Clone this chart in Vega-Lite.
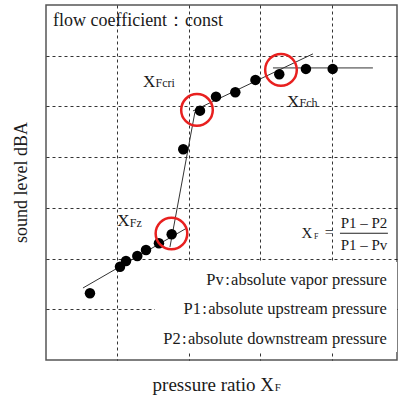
{
  "$schema": "https://vega.github.io/schema/vega-lite/v6.json",
  "autosize": "none",
  "width": 351,
  "height": 355,
  "padding": {"left": 46, "top": 5, "right": 1, "bottom": 37},
  "background": "white",
  "config": {
    "view": {"stroke": "#555", "strokeWidth": 1.5},
    "text": {"font": "Liberation Serif", "color": "#1a1a1a"}
  },
  "datasets": {
    "points": [
      {"x": 0.615, "y": 1.316}, {"x": 1.035, "y": 1.84}, {"x": 1.119, "y": 1.953},
      {"x": 1.277, "y": 2.051}, {"x": 1.399, "y": 2.17}, {"x": 1.58, "y": 2.302},
      {"x": 1.758, "y": 2.479}, {"x": 1.92, "y": 4.156}, {"x": 2.154, "y": 4.917},
      {"x": 2.378, "y": 5.193}, {"x": 2.648, "y": 5.28}, {"x": 2.93, "y": 5.523},
      {"x": 3.263, "y": 5.635}, {"x": 3.636, "y": 5.74}, {"x": 4.01, "y": 5.74}
    ],
    "segments": [
      {"seg": "A", "x": 0.517, "y": 1.42}, {"seg": "A", "x": 1.972, "y": 2.604},
      {"seg": "B", "x": 1.734, "y": 2.229}, {"seg": "B", "x": 2.084, "y": 4.892},
      {"seg": "C", "x": 2.056, "y": 4.911}, {"seg": "C", "x": 3.734, "y": 6.036},
      {"seg": "D", "x": 3.175, "y": 5.759}, {"seg": "D", "x": 4.573, "y": 5.759}
    ],
    "circles": [
      {"name": "XFz", "x": 1.755, "y": 2.495},
      {"name": "XFcri", "x": 2.112, "y": 4.931},
      {"name": "XFch", "x": 3.287, "y": 5.72}
    ],
    "box": [{"x": 1.524, "x2": 4.91, "y": 0.16, "y2": 1.93}],
    "bar": [{"x": 4.112, "x2": 4.783, "y": 2.499}],
    "texts": [
      {"role": "big", "text": "X", "x": 1.357, "y": 5.391},
      {"role": "big", "text": "X", "x": 3.371, "y": 4.996},
      {"role": "big", "text": "X", "x": 0.997, "y": 2.643},
      {"role": "sub", "text": "Fcri", "x": 1.532, "y": 5.375},
      {"role": "sub", "text": "Fch", "x": 3.546, "y": 4.98},
      {"role": "sub", "text": "Fz", "x": 1.172, "y": 2.627},
      {"role": "title", "text": "flow coefficient：const", "x": 0.098, "y": 6.588},
      {"role": "legend", "text": "Pv\u200a:\u200aabsolute vapor pressure", "x": 4.769, "y": 1.479},
      {"role": "legend", "text": "P1\u200a:\u200aabsolute upstream pressure", "x": 4.769, "y": 0.901},
      {"role": "legend", "text": "P2\u200a:\u200aabsolute downstream pressure", "x": 4.769, "y": 0.316},
      {"role": "frac", "text": "P1 – P2", "x": 4.448, "y": 2.594},
      {"role": "frac", "text": "P1 – Pv", "x": 4.448, "y": 2.17},
      {"role": "frac", "text": "=", "x": 3.958, "y": 2.416},
      {"role": "fx", "text": "X", "x": 3.573, "y": 2.406},
      {"role": "fsub", "text": "F", "x": 3.748, "y": 2.387},
      {"role": "xtitle", "text": "pressure ratio X", "x": 3.189, "y": -0.611},
      {"role": "xsub", "text": "F", "x": 3.2, "y": -0.621},
      {"role": "ytitle", "text": "sound level dBA", "x": -0.336, "y": 3.5}
    ]
  },
  "encoding": {
    "x": {
      "field": "x", "type": "quantitative",
      "scale": {"domain": [0, 4.91], "nice": false, "zero": false},
      "axis": {"values": [1, 2, 3, 4], "labels": false, "ticks": false, "domain": false, "title": null,
               "grid": true, "gridDash": [3, 3], "gridColor": "#111", "gridWidth": 1, "gridOpacity": 0.85}
    },
    "y": {
      "field": "y", "type": "quantitative",
      "scale": {"domain": [0, 7], "nice": false, "zero": false},
      "axis": {"values": [1, 2, 3, 4, 5, 6], "labels": false, "ticks": false, "domain": false, "title": null,
               "grid": true, "gridDash": [3, 3], "gridColor": "#111", "gridWidth": 1, "gridOpacity": 0.85}
    }
  },
  "layer": [
    {
      "data": {"name": "box"},
      "mark": {"type": "rect", "fill": "white", "stroke": null},
      "encoding": {"x2": {"field": "x2"}, "y2": {"field": "y2"}}
    },
    {
      "data": {"name": "segments"},
      "mark": {"type": "line", "color": "#333", "strokeWidth": 1},
      "encoding": {"detail": {"field": "seg"}}
    },
    {
      "data": {"name": "points"},
      "mark": {"type": "point", "shape": "circle", "filled": true, "color": "#000", "size": 110, "opacity": 1}
    },
    {
      "data": {"name": "circles"},
      "mark": {"type": "point", "shape": "circle", "filled": false, "color": "#e8201f", "strokeWidth": 2.5, "size": 1000, "opacity": 1}
    },
    {
      "data": {"name": "bar"},
      "mark": {"type": "rule", "color": "#222", "strokeWidth": 1},
      "encoding": {"x2": {"field": "x2"}}
    },
    {
      "data": {"name": "texts"},
      "transform": [{"filter": "datum.role === 'big'"}],
      "mark": {"type": "text", "align": "left", "baseline": "alphabetic", "fontSize": 17},
      "encoding": {"text": {"field": "text"}}
    },
    {
      "data": {"name": "texts"},
      "transform": [{"filter": "datum.role === 'sub'"}],
      "mark": {"type": "text", "align": "left", "baseline": "alphabetic", "fontSize": 12},
      "encoding": {"text": {"field": "text"}}
    },
    {
      "data": {"name": "texts"},
      "transform": [{"filter": "datum.role === 'title'"}],
      "mark": {"type": "text", "align": "left", "baseline": "alphabetic", "fontSize": 18},
      "encoding": {"text": {"field": "text"}}
    },
    {
      "data": {"name": "texts"},
      "transform": [{"filter": "datum.role === 'legend'"}],
      "mark": {"type": "text", "align": "right", "baseline": "alphabetic", "fontSize": 16.5},
      "encoding": {"text": {"field": "text"}}
    },
    {
      "data": {"name": "texts"},
      "transform": [{"filter": "datum.role === 'frac'"}],
      "mark": {"type": "text", "align": "center", "baseline": "alphabetic", "fontSize": 15},
      "encoding": {"text": {"field": "text"}}
    },
    {
      "data": {"name": "texts"},
      "transform": [{"filter": "datum.role === 'fx'"}],
      "mark": {"type": "text", "align": "left", "baseline": "alphabetic", "fontSize": 15},
      "encoding": {"text": {"field": "text"}}
    },
    {
      "data": {"name": "texts"},
      "transform": [{"filter": "datum.role === 'fsub'"}],
      "mark": {"type": "text", "align": "left", "baseline": "alphabetic", "fontSize": 8},
      "encoding": {"text": {"field": "text"}}
    },
    {
      "data": {"name": "texts"},
      "transform": [{"filter": "datum.role === 'xtitle'"}],
      "mark": {"type": "text", "align": "right", "baseline": "alphabetic", "fontSize": 19},
      "encoding": {"text": {"field": "text"}}
    },
    {
      "data": {"name": "texts"},
      "transform": [{"filter": "datum.role === 'xsub'"}],
      "mark": {"type": "text", "align": "left", "baseline": "alphabetic", "fontSize": 11},
      "encoding": {"text": {"field": "text"}}
    },
    {
      "data": {"name": "texts"},
      "transform": [{"filter": "datum.role === 'ytitle'"}],
      "mark": {"type": "text", "align": "center", "baseline": "middle", "fontSize": 18, "angle": 270},
      "encoding": {"text": {"field": "text"}}
    }
  ]
}
